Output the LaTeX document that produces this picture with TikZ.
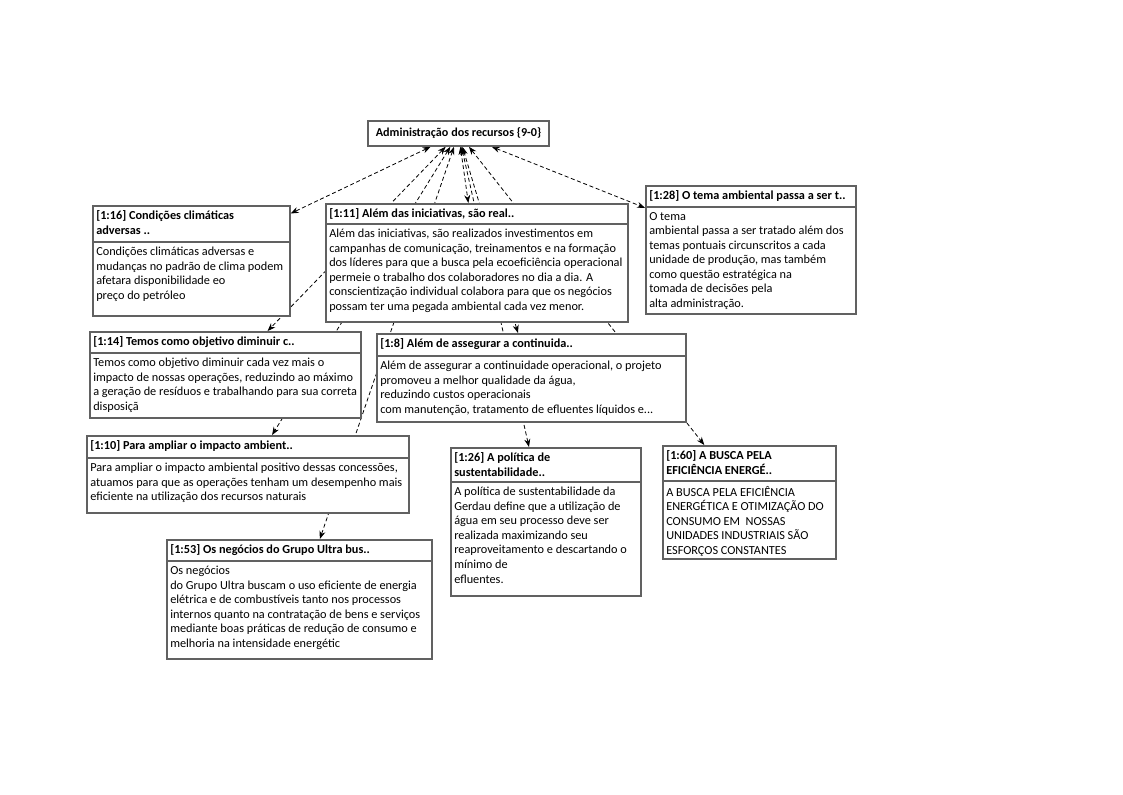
\documentclass[tikz,border=0pt]{standalone}
\usepackage{fontspec}
\setmainfont{Carlito}
\usetikzlibrary{arrows.meta,backgrounds}

% quotation box: name, x1, y1, x2, y2, separator y, title, text
\newcommand{\qbox}[8]{%
  \node[qframe,minimum width={(#4-#2)*0.75pt},minimum height={(#5-#3)*0.75pt}] (#1) at (#2,#3) {};
  \node[qtitle] (#1t) at (#2+4,#3+5) {#7};
  \draw[qsep] (#2,#6) -- (#4,#6);
  \node[qbody] (#1b) at (#2+4,#6+5) {#8};
}

\begin{document}
\begin{tikzpicture}[x=0.75pt, y=-0.75pt,
  qframe/.style={draw=black!62, line width=1.2pt, fill=white, anchor=north west, inner sep=0pt},
  qtitle/.style={anchor=north west, inner sep=0pt, align=left, font=\fontsize{9.2}{11.2}\selectfont\bfseries},
  qbody/.style={anchor=north west, inner sep=0pt, align=left, font=\fontsize{9.2}{10.9}\selectfont},
  qsep/.style={draw=black!62, line width=0.8pt},
  link/.style={densely dashed, line width=0.6pt, {Stealth[length=6pt,width=4.5pt]}-{Stealth[length=6pt,width=4.5pt]}}]
  \useasboundingbox (0,0) rectangle (1123,794);

  \node[qframe, anchor=center, minimum width=135.75pt, minimum height=18.75pt,
        font=\fontsize{9.1}{10}\selectfont\bfseries] (adm) at (458.5,133.5) {Administração dos recursos \{9-0\}};

  \qbox{q16}{92}{205}{289}{315}{242}{[1:16] Condições climáticas\\adversas ..}
    {Condições climáticas adversas e\\mudanças no padrão de clima podem\\afetara disponibilidade eo\\preço do petróleo}
  \qbox{q11}{325}{203}{627}{321}{224}{[1:11] Além das iniciativas, são real..}
    {Além das iniciativas, são realizados investimentos em\\campanhas de comunicação, treinamentos e na formação\\dos líderes para que a busca pela ecoeficiência operacional\\permeie o trabalho dos colaboradores no dia a dia. A\\conscientização individual colabora para que os negócios\\possam ter uma pegada ambiental cada vez menor.}
  \qbox{q28}{645}{185}{855}{313}{207}{[1:28] O tema ambiental passa a ser t..}
    {O tema\\ambiental passa a ser tratado além dos\\temas pontuais circunscritos a cada\\unidade de produção, mas também\\como questão estratégica na\\tomada de decisões pela\\alta administração.}
  \qbox{q14}{89}{331}{360}{417}{353}{[1:14] Temos como objetivo diminuir c..}
    {Temos como objetivo diminuir cada vez mais o\\impacto de nossas operações, reduzindo ao máximo\\a geração de resíduos e trabalhando para sua correta\\disposiçã}
  \qbox{q8}{376}{333}{685}{421}{356}{[1:8] Além de assegurar a continuida..}
    {Além de assegurar a continuidade operacional, o projeto\\promoveu a melhor qualidade da água,\\reduzindo custos operacionais\\com manutenção, tratamento de efluentes líquidos e...}
  \qbox{q10}{86}{435}{408}{512}{458}{[1:10] Para ampliar o impacto ambient..}
    {Para ampliar o impacto ambiental positivo dessas concessões,\\atuamos para que as operações tenham um desempenho mais\\eficiente na utilização dos recursos naturais}
  \qbox{q26}{450}{447}{640}{595}{482}{[1:26] A política de\\sustentabilidade..}
    {A política de sustentabilidade da\\Gerdau define que a utilização de\\água em seu processo deve ser\\realizada maximizando seu\\reaproveitamento e descartando o\\mínimo de\\efluentes.}
  \qbox{q60}{662}{445}{835}{558}{481}{[1:60] A BUSCA PELA\\EFICIÊNCIA ENERGÉ..}
    {A BUSCA PELA EFICIÊNCIA\\ENERGÉTICA E OTIMIZAÇÃO DO\\CONSUMO EM~ NOSSAS\\UNIDADES INDUSTRIAIS SÃO\\ESFORÇOS CONSTANTES}
  \qbox{q53}{166}{539}{431}{658}{561}{[1:53] Os negócios do Grupo Ultra bus..}
    {Os negócios\\do Grupo Ultra buscam o uso eficiente de energia\\elétrica e de combustíveis tanto nos processos\\internos quanto na contratação de bens e serviços\\mediante boas práticas de redução de consumo e\\melhoria na intensidade energétic}

  % links behind the boxes
  \begin{scope}[on background layer]
    \foreach \q in {q16,q11,q28,q14,q8,q10,q26,q60,q53}
      \draw[link] (adm) -- (\q);
  \end{scope}
\end{tikzpicture}
\end{document}
